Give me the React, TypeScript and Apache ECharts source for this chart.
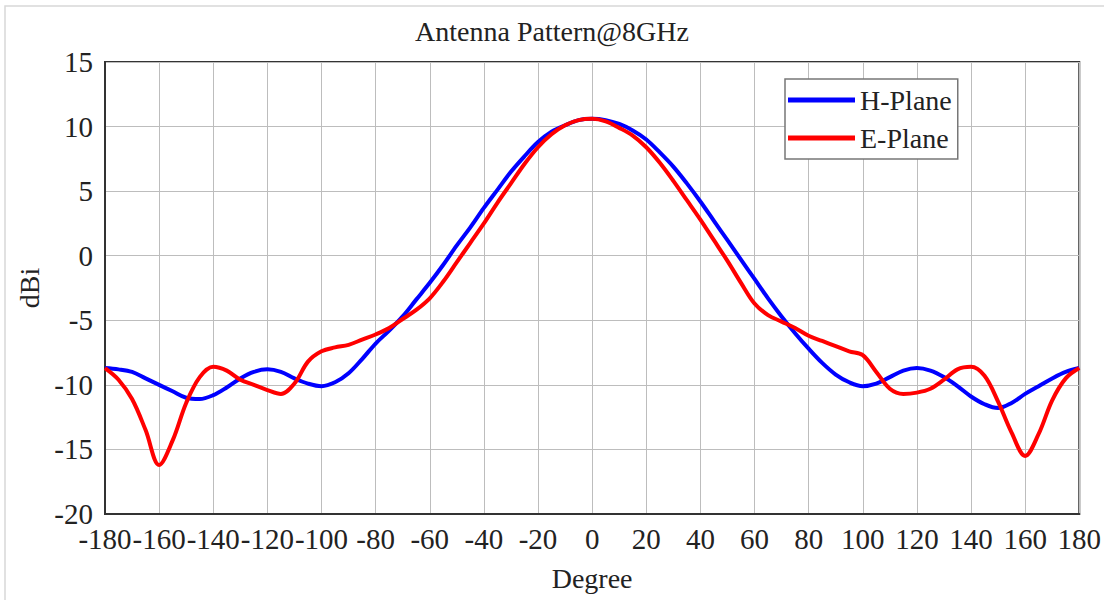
import React, { useEffect, useRef } from "react";
import * as echarts from "echarts";

const titleText = "Antenna Pattern@8GHz";
const xName = "Degree";
const yName = "dBi";
const seriesNames = ["H-Plane", "E-Plane"];

// sample angles (degrees), every 5°
const degrees = [
  -180, -175, -170, -165, -160, -155, -150, -145, -140, -135, -130, -125, -120, -115, -110, -105, -100, -95, -90, -85,
  -80, -75, -70, -65, -60, -55, -50, -45, -40, -35, -30, -25, -20, -15, -10, -5, 0, 5, 10, 15,
  20, 25, 30, 35, 40, 45, 50, 55, 60, 65, 70, 75, 80, 85, 90, 95, 100, 105, 110, 115,
  120, 125, 130, 135, 140, 145, 150, 155, 160, 165, 170, 175, 180,
];

const hPlane = [
  -8.7, -8.8, -9.0, -9.5, -10.0, -10.5, -11.0, -11.1, -10.8, -10.2, -9.5, -9.0, -8.8, -9.0, -9.5, -9.9, -10.1, -9.8, -9.1, -8.0,
  -6.8, -5.8, -4.7, -3.4, -2.1, -0.7, 0.8, 2.2, 3.7, 5.1, 6.5, 7.7, 8.8, 9.6, 10.1, 10.5, 10.6, 10.5, 10.2, 9.7,
  9.0, 8.0, 6.9, 5.6, 4.2, 2.7, 1.2, -0.3, -1.8, -3.3, -4.7, -6.0, -7.2, -8.3, -9.2, -9.8, -10.1, -9.9, -9.4, -8.9,
  -8.7, -8.9, -9.4, -10.1, -10.9, -11.5, -11.8, -11.4, -10.7, -10.1, -9.5, -9.0, -8.7,
];

const ePlane = [
  -8.7, -9.6, -11.1, -13.5, -16.2, -14.3, -11.4, -9.4, -8.6, -8.9, -9.6, -10.0, -10.4, -10.7, -9.9, -8.2, -7.4, -7.1, -6.9, -6.5,
  -6.1, -5.6, -4.9, -4.2, -3.3, -2.0, -0.5, 1.0, 2.5, 4.1, 5.6, 7.1, 8.4, 9.4, 10.1, 10.5, 10.6, 10.4, 9.9, 9.3,
  8.4, 7.2, 5.8, 4.3, 2.8, 1.2, -0.4, -2.1, -3.7, -4.6, -5.1, -5.6, -6.2, -6.6, -7.0, -7.4, -7.7, -9.0, -10.3, -10.7,
  -10.6, -10.3, -9.6, -8.8, -8.6, -9.3, -11.3, -13.7, -15.5, -13.8, -11.2, -9.5, -8.7,
];

const FONT = "'Liberation Serif', 'Times New Roman', serif";

export default function App() {
  const ref = useRef<HTMLDivElement>(null);
  useEffect(() => {
    if (!ref.current) return;
    const chart = echarts.init(ref.current, null, { renderer: "svg" });
    const hData = degrees.map((d, i) => [d, hPlane[i]]);
    const eData = degrees.map((d, i) => [d, ePlane[i]]);
    chart.setOption({
      animation: false,
      backgroundColor: "#fff",
      title: {
        text: titleText,
        left: "center",
        top: 12,
        textStyle: { fontFamily: FONT, fontSize: 28, fontWeight: "normal", color: "#222" },
      },
      graphic: [
        {
          type: "rect",
          shape: { x: 5, y: 6, width: 1110, height: 620 },
          style: { fill: "none", stroke: "#d8d8d8", lineWidth: 1.5 },
          silent: true,
          z: -10,
        },
      ],
      legend: {
        orient: "vertical",
        left: 785,
        top: 79,
        padding: [6, 6, 6, 3],
        itemGap: 8,
        itemWidth: 67,
        itemHeight: 5,
        icon: "rect",
        borderColor: "#777",
        borderWidth: 1.5,
        backgroundColor: "#fff",
        textStyle: { fontFamily: FONT, fontSize: 28, color: "#222", lineHeight: 30 },
        data: seriesNames,
      },
      grid: {
        left: 105,
        right: 24,
        top: 62,
        bottom: 86,
        show: true,
        borderColor: "#333",
        borderWidth: 2,
      },
      xAxis: {
        type: "value",
        min: -180,
        max: 180,
        interval: 20,
        name: xName,
        nameLocation: "middle",
        nameGap: 50,
        nameTextStyle: { fontFamily: FONT, fontSize: 28, color: "#222" },
        axisLine: { show: true, onZero: false, lineStyle: { color: "#333", width: 2 } },
        axisTick: { show: false },
        axisLabel: { fontFamily: FONT, fontSize: 29, color: "#222", margin: 10 },
        splitLine: { show: true, lineStyle: { color: "#bdbdbd", width: 1 } },
      },
      yAxis: {
        type: "value",
        min: -20,
        max: 15,
        interval: 5,
        name: yName,
        nameLocation: "middle",
        nameGap: 62,
        nameRotate: 90,
        nameTextStyle: { fontFamily: FONT, fontSize: 28, color: "#222" },
        axisLine: { show: true, onZero: false, lineStyle: { color: "#333", width: 2 } },
        axisTick: { show: false },
        axisLabel: { fontFamily: FONT, fontSize: 29, color: "#222", margin: 12 },
        splitLine: { show: true, lineStyle: { color: "#bdbdbd", width: 1 } },
      },
      series: [
        {
          name: seriesNames[0],
          type: "line",
          data: hData,
          smooth: 0.35,
          symbol: "none",
          lineStyle: { color: "#0000ff", width: 4 },
          itemStyle: { color: "#0000ff" },
          z: 3,
        },
        {
          name: seriesNames[1],
          type: "line",
          data: eData,
          smooth: 0.35,
          symbol: "none",
          lineStyle: { color: "#ff0000", width: 4 },
          itemStyle: { color: "#ff0000" },
          z: 4,
        },
      ],
    });
    return () => chart.dispose();
  }, []);
  return <div ref={ref} style={{ width: 1104, height: 600, position: "absolute", left: 0, top: 0 }} />;
}
